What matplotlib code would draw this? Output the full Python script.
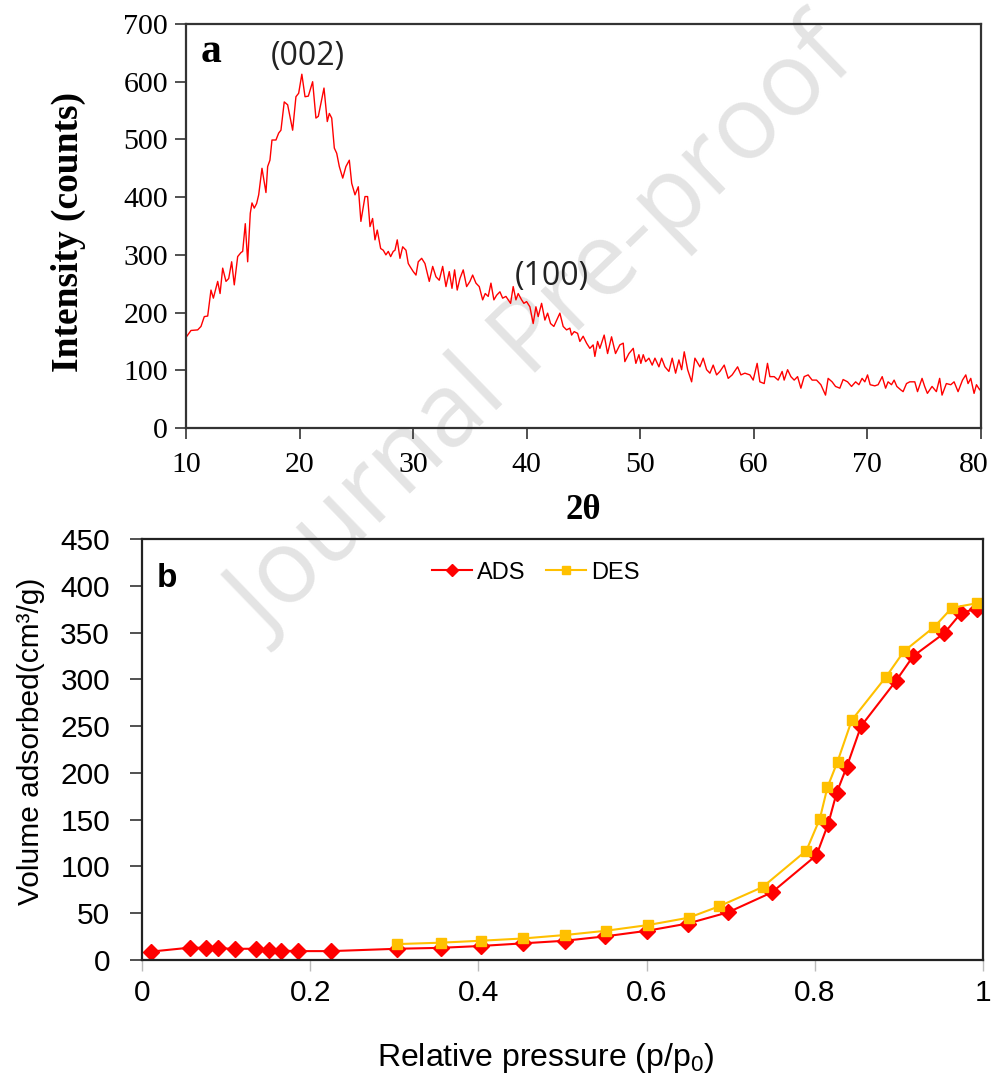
import matplotlib
matplotlib.use("Agg")
import matplotlib.pyplot as plt
from matplotlib.transforms import ScaledTranslation

plt.rcParams['mathtext.fontset'] = 'custom'
plt.rcParams['mathtext.rm'] = 'Liberation Sans'
plt.rcParams['mathtext.it'] = 'Liberation Sans'

# ---------------- XRD data (panel a) ----------------
two_theta = [10.0, 10.44, 11.03, 11.32, 11.61, 11.91, 12.2, 12.41, 12.79, 13.0, 13.23, 13.52, 13.76,
             14.02, 14.25, 14.55, 14.84, 14.99, 15.22, 15.43, 15.66, 15.81, 16.01, 16.22, 16.4, 16.69,
             17.04, 17.19, 17.39, 17.57, 17.92, 18.16, 18.36, 18.65, 18.95, 19.39, 19.68, 19.92, 20.2,
             20.48, 20.77, 21.15, 21.44, 21.65, 22.15, 22.44, 22.62, 22.83, 23.06, 23.27, 23.5, 23.8,
             24.08, 24.38, 24.59, 24.88, 25.17, 25.4, 25.76, 25.99, 26.2, 26.43, 26.64, 26.84, 27.14,
             27.37, 27.6, 27.81, 28.02, 28.25, 28.4, 28.6, 28.84, 29.08, 29.37, 29.57, 29.72, 30.01,
             30.25, 30.45, 30.75, 31.04, 31.42, 31.72, 32.01, 32.3, 32.6, 32.89, 33.18, 33.42, 33.65,
             33.88, 34.12, 34.41, 34.71, 35.0, 35.24, 35.53, 35.82, 36.12, 36.35, 36.61, 36.85, 37.11,
             37.35, 37.64, 37.88, 38.17, 38.37, 38.58, 38.81, 39.05, 39.25, 39.55, 39.75, 39.99, 40.28,
             40.57, 40.81, 41.01, 41.31, 41.6, 41.84, 42.1, 42.39, 42.92, 43.21, 43.51, 43.8, 43.95,
             44.18, 44.48, 44.68, 44.97, 45.27, 45.56, 45.85, 46.0, 46.24, 46.44, 46.82, 47.12, 47.47,
             47.82, 48.2, 48.5, 48.64, 49.0, 49.38, 49.61, 49.88, 50.05, 50.26, 50.47, 50.76, 51.05,
             51.29, 51.64, 51.88, 52.17, 52.52, 52.81, 53.11, 53.4, 53.64, 53.87, 54.17, 54.52, 54.81,
             55.25, 55.54, 55.84, 56.13, 56.42, 56.72, 57.01, 57.39, 57.74, 58.09, 58.57, 58.86, 59.21,
             59.65, 59.94, 60.29, 60.53, 60.91, 61.2, 61.41, 61.79, 62.14, 62.49, 62.67, 62.97, 63.26,
             63.55, 63.85, 64.14, 64.43, 64.78, 65.13, 65.52, 65.9, 66.31, 66.54, 66.89, 67.19, 67.57,
             67.86, 68.25, 68.6, 68.96, 69.25, 69.53, 69.77, 70.01, 70.24, 70.65, 70.94, 71.3, 71.6,
             71.82, 72.12, 72.35, 72.59, 72.94, 73.14, 73.44, 73.73, 74.17, 74.41, 74.81, 75.04, 75.28,
             75.69, 76.07, 76.36, 76.57, 76.95, 77.34, 77.63, 77.98, 78.37, 78.66, 78.86, 79.1, 79.39,
             79.6, 79.89, 80.0]
intensity = [157, 169, 170, 176, 193, 194, 239, 225, 254, 233, 277, 254, 259,
             288, 248, 297, 304, 306, 354, 288, 372, 390, 381, 389, 404, 450,
             408, 453, 464, 499, 499, 511, 516, 565, 560, 516, 574, 580, 613,
             574, 575, 600, 537, 540, 589, 531, 545, 537, 485, 476, 453, 433,
             453, 464, 424, 404, 418, 358, 401, 401, 349, 363, 326, 343, 311,
             308, 300, 306, 297, 306, 308, 326, 294, 314, 308, 285, 280, 271,
             265, 288, 294, 285, 254, 280, 262, 256, 280, 245, 271, 242, 274,
             239, 259, 274, 245, 254, 265, 251, 245, 222, 233, 228, 251, 222,
             230, 236, 225, 228, 222, 216, 245, 222, 233, 222, 216, 219, 210,
             181, 210, 193, 216, 187, 199, 181, 176, 199, 176, 170, 173, 161,
             167, 164, 150, 159, 147, 138, 144, 124, 150, 138, 161, 129, 158,
             129, 144, 147, 115, 129, 138, 112, 127, 112, 127, 115, 121, 109,
             121, 106, 121, 106, 98, 121, 95, 118, 101, 132, 101, 80, 121,
             106, 121, 101, 95, 109, 92, 98, 109, 86, 92, 106, 92, 95,
             92, 83, 112, 80, 77, 112, 89, 89, 83, 98, 83, 101, 89,
             83, 89, 69, 89, 92, 83, 83, 75, 57, 86, 80, 72, 69,
             84, 80, 72, 80, 75, 86, 80, 92, 75, 73, 75, 89, 69,
             80, 75, 83, 72, 66, 63, 77, 80, 80, 63, 86, 72, 60,
             72, 63, 86, 57, 77, 75, 80, 63, 83, 92, 77, 86, 60,
             75, 66, 70]

xrd_xticks = [10, 20, 30, 40, 50, 60, 70, 80]
xrd_yticks = [0, 100, 200, 300, 400, 500, 600, 700]

# ---------------- BET isotherm data (panel b) ----------------
ads_p = [0.011, 0.057, 0.076, 0.090, 0.111, 0.135, 0.151, 0.165, 0.186, 0.225, 0.303, 0.355,
         0.403, 0.453, 0.503, 0.551, 0.601, 0.649, 0.697, 0.749, 0.802, 0.816, 0.826, 0.838,
         0.855, 0.896, 0.917, 0.954, 0.974, 0.993]
ads_v = [9, 13.2, 13, 12.5, 12, 12, 11, 10, 9.5, 9.5, 12, 13,
         15, 17.8, 20.6, 25.3, 31.3, 39, 51, 72.3, 112, 145.7, 178.8, 206.5,
         250, 297.7, 324.8, 349.4, 371, 375.7]
des_p = [0.303, 0.355, 0.403, 0.453, 0.503, 0.552, 0.602, 0.650, 0.686, 0.738, 0.790, 0.806,
         0.815, 0.827, 0.844, 0.885, 0.906, 0.942, 0.963, 0.993]
des_v = [17, 18.5, 20.6, 23, 26.7, 31.3, 37.4, 45.2, 57.3, 78, 117, 151,
         184.5, 212, 256.4, 303, 330, 356, 376.4, 381.4]

bet_xticks = [0, 0.2, 0.4, 0.6, 0.8, 1.0]
bet_xticklabels = ['0', '0.2', '0.4', '0.6', '0.8', '1']
bet_yticks = [0, 50, 100, 150, 200, 250, 300, 350, 400, 450]

W, H = 992, 1077
fig = plt.figure(figsize=(W / 100, H / 100), dpi=100)

def rect(l, t, r, b):
    return [l / W, 1 - b / H, (r - l) / W, (b - t) / H]

# Watermark
fig.text(0.55, 0.69, 'Journal Pre-proof', fontsize=74, family='Open Sans', color='#e4e4e4',
         rotation=44, ha='center', va='center', zorder=-5)

serif = 'Liberation Serif'
sans = 'Liberation Sans'

# ---------------- Panel a ----------------
ax1 = fig.add_axes(rect(186, 24, 981, 428))
ax1.patch.set_alpha(0)
ax1.plot(two_theta, intensity, color='#ff0000', lw=1.0)
ax1.set_xlim(10, 80)
ax1.set_ylim(0, 700)
ax1.set_xticks(xrd_xticks)
ax1.set_yticks(xrd_yticks)
for lab in ax1.get_xticklabels() + ax1.get_yticklabels():
    lab.set_family(serif)
    lab.set_fontsize(21.5)
ax1.tick_params(direction='out', length=8, width=1.2, color='#333333', pad=9)
ax1.tick_params(axis='y', pad=5)
last = ax1.get_xticklabels()[-1]
last.set_transform(last.get_transform() + ScaledTranslation(-7 / 100, 0, fig.dpi_scale_trans))
for s in ax1.spines.values():
    s.set_color('#333333')
    s.set_linewidth(1.6)
ax1.set_ylabel('Intensity (counts)', family=serif, fontweight='bold', fontsize=27, va='center')
ax1.yaxis.set_label_coords(-0.148, 0.485)
ax1.set_xlabel('2θ', family=serif, fontweight='bold', fontsize=25, va='center')
ax1.xaxis.set_label_coords(0.5, -0.205)
ax1.text(0.018, 0.93, 'a', transform=ax1.transAxes, family=serif, fontweight='bold',
         fontsize=30, ha='left', va='center')
ax1.text(20.74, 643, '(002)', family='Open Sans', fontsize=23, color='#222222',
         ha='center', va='center')
ax1.text(42.2, 263, '(100)', family='Open Sans', fontsize=23, color='#222222',
         ha='center', va='center')

# ---------------- Panel b ----------------
ax2 = fig.add_axes(rect(142, 539, 983, 960))
ax2.patch.set_alpha(0)
ax2.plot(ads_p, ads_v, color='#ff0000', lw=1.5, marker='D', ms=8, mfc='#ff0000',
         mec='#ff0000', label='ADS')
ax2.plot(des_p, des_v, color='#ffc000', lw=1.5, marker='s', ms=7.5, mfc='#ffc000',
         mec='#ffc000', label='DES')
ax2.set_xlim(0, 1)
ax2.set_ylim(0, 450)
ax2.set_xticks(bet_xticks)
ax2.set_xticklabels(bet_xticklabels)
ax2.set_yticks(bet_yticks)
for lab in ax2.get_xticklabels() + ax2.get_yticklabels():
    lab.set_family(sans)
    lab.set_fontsize(21.5)
ax2.tick_params(axis='y', direction='out', length=9, width=1.2, color='#333333', pad=14)
ax2.tick_params(axis='x', direction='out', length=8, width=1.0, color='#bbbbbb', pad=6)
for s in ax2.spines.values():
    s.set_color('#222222')
    s.set_linewidth(1.6)
ax2.set_ylabel('Volume adsorbed(cm³/g)', family=sans, fontsize=21.5, va='center')
ax2.yaxis.set_label_coords(-0.132, 0.52)
ax2.set_xlabel('Relative pressure (p/p$_0$)', family=sans, fontsize=23, va='center')
ax2.xaxis.set_label_coords(0.48, -0.233)
ax2.text(0.018, 0.905, 'b', transform=ax2.transAxes, family=sans, fontweight='bold',
         fontsize=24, ha='left', va='center')
ax2.legend(loc='center', bbox_to_anchor=(0.468, 0.92), ncol=2, frameon=False,
           prop={'family': sans, 'size': 17}, handlelength=1.7, handletextpad=0.2,
           columnspacing=0.9, markerscale=0.8)

fig.savefig('out.png', dpi=100)
